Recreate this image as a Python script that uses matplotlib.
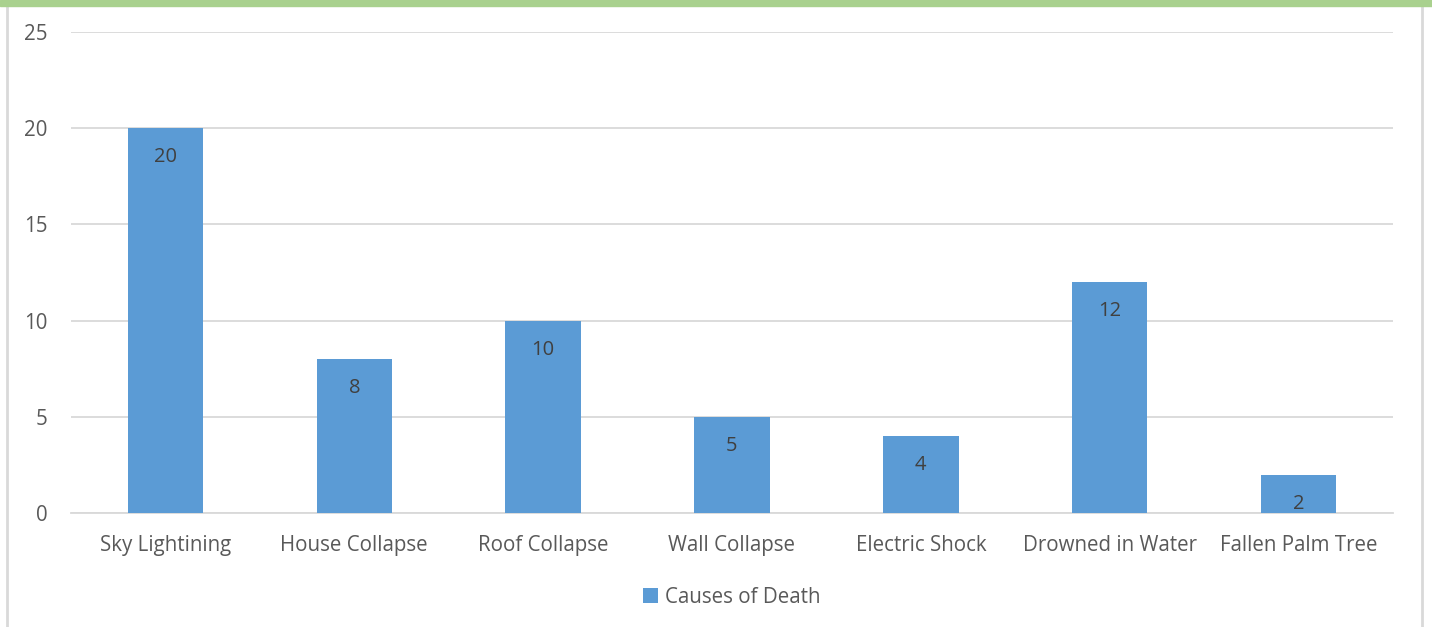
import matplotlib.pyplot as plt
from matplotlib.lines import Line2D
from matplotlib.patches import Rectangle

categories = ['Sky Lightining', 'House Collapse', 'Roof Collapse', 'Wall Collapse',
              'Electric Shock', 'Drowned in Water', 'Fallen Palm Tree']
deaths = [20, 8, 10, 5, 4, 12, 2]
y_ticks = [0, 5, 10, 15, 20, 25]

plt.rcParams['font.family'] = ['Open Sans', 'DejaVu Sans']
txt = '#595959'

fig = plt.figure(figsize=(14.32, 6.27), dpi=100)
ax = fig.add_axes([71 / 1432, 114 / 627, 1322 / 1432, 481 / 627])

x = range(len(categories))
bars = ax.bar(x, deaths, width=0.4, color='#5b9bd5', label='Causes of Death', zorder=3)

for b, v in zip(bars, deaths):
    ax.annotate(str(v), (b.get_x() + b.get_width() / 2, v), xytext=(0, -29),
                textcoords='offset pixels', ha='center', va='center',
                fontsize=14.5, color='#404040', zorder=4)

ax.set_xlim(-0.5, len(categories) - 0.5)
ax.set_ylim(0, 25)
ax.set_yticks(y_ticks)
ax.set_xticks(list(x))
ax.set_xticklabels(categories)
ax.grid(axis='y', color='#d9d9d9', linewidth=1.3, zorder=0)
for s in ['top', 'right', 'left']:
    ax.spines[s].set_visible(False)
ax.spines['bottom'].set_color('#d9d9d9')
ax.spines['bottom'].set_linewidth(1.3)
ax.tick_params(axis='both', length=0, labelsize=14.8, labelcolor=txt)
ax.tick_params(axis='x', pad=16)
ax.tick_params(axis='y', pad=17)

leg = ax.legend(loc='center', bbox_to_anchor=(0.5, -0.175), frameon=False,
                fontsize=14.8, handlelength=0.7, handleheight=0.7, handletextpad=0.35)
for t in leg.get_texts():
    t.set_color(txt)

# frame decorations
fig.patches.append(Rectangle((0, 1 - 6 / 627), 1, 6 / 627, transform=fig.transFigure,
                             color='#a9d18e', zorder=5))
fig.lines.append(Line2D([7 / 1432, 7 / 1432], [0, 1 - 6 / 627], transform=fig.transFigure,
                        color='#d9d9d9', linewidth=2))
fig.lines.append(Line2D([1422 / 1432, 1422 / 1432], [0, 1 - 6 / 627], transform=fig.transFigure,
                        color='#d9d9d9', linewidth=2))

fig.savefig('out.png', dpi=100)
